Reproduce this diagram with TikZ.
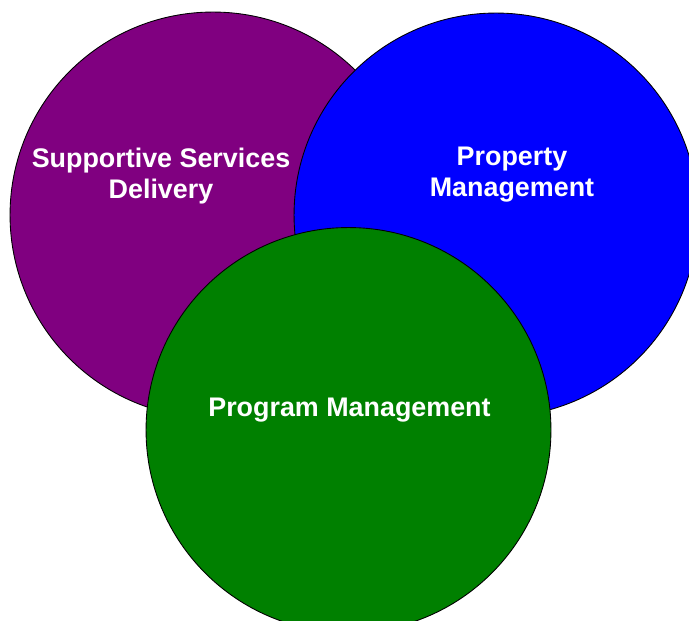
\documentclass[tikz,border=0pt]{standalone}
\usepackage{fontspec}
\setmainfont{Liberation Sans}

\definecolor{servpurple}{RGB}{128,0,128}
\definecolor{propblue}{RGB}{0,0,255}
\definecolor{proggreen}{RGB}{0,128,0}

\tikzset{
  area/.style={draw=black, line width=0.5pt},
  areatext/.style={text=white, align=center,
    font=\bfseries\fontsize{15.3}{17.6}\selectfont}
}

\begin{document}
\begin{tikzpicture}[x=0.02cm,y=-0.02cm]
\useasboundingbox (0,0) rectangle (689,621);

\draw[area, fill=servpurple] (213,215) circle (4.06cm);
\node[areatext] (services) at (161,176) {Supportive Services\\ Delivery};

\draw[area, fill=propblue] (496,215) circle (4.04cm);
\node[areatext] (property) at (512,175) {Property\\ Management};

\draw[area, fill=proggreen] (348.5,430) circle (4.05cm);
\node[areatext] (program) at (349.5,410) {Program Management};
\end{tikzpicture}
\end{document}
